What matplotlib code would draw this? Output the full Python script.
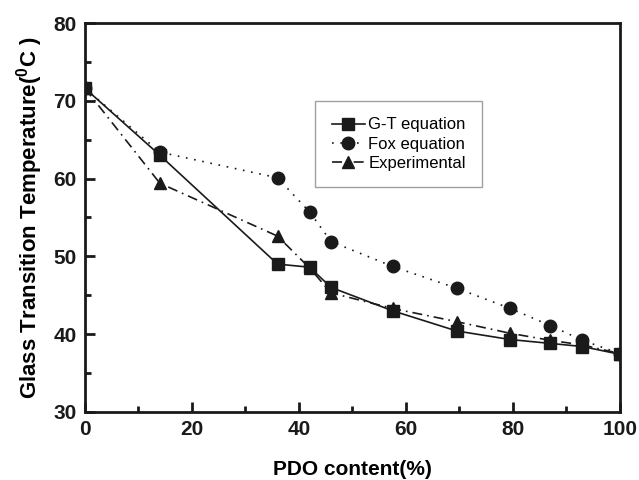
import matplotlib.pyplot as plt
from matplotlib.ticker import MultipleLocator

plt.rcParams['font.family'] = ['Liberation Sans', 'DejaVu Sans']
plt.rcParams['mathtext.default'] = 'regular'

# PDO content (%)
pdo = [0, 14, 36, 42, 46, 57.5, 69.5, 79.5, 87, 93, 100]
gt_eq = [71.6, 63.0, 49.0, 48.6, 46.0, 43.0, 40.4, 39.3, 38.8, 38.4, 37.4]
fox_eq = [71.6, 63.4, 60.1, 55.7, 51.9, 48.7, 45.9, 43.3, 41.1, 39.2, 37.5]
experimental = [71.6, 59.4, 52.6, 48.5, 45.3, 43.3, 41.6, 40.1, 39.2, 38.6, 37.5]

fig = plt.figure(figsize=(6.39, 4.8), dpi=100)
ax = fig.add_axes([0.133, 0.142, 0.837, 0.810])

ax.plot(pdo, gt_eq, color='#1a1a1a', linestyle='-', linewidth=1.2,
        marker='s', markersize=8, label='G-T equation')
ax.plot(pdo, fox_eq, color='#1a1a1a', linestyle=(0, (1, 4)), linewidth=1.2,
        marker='o', markersize=9, label='Fox equation')
ax.plot(pdo, experimental, color='#1a1a1a', linestyle=(0, (6, 3, 1, 3)), linewidth=1.2,
        marker='^', markersize=9, label='Experimental')

ax.set_xlim(0, 100)
ax.set_ylim(30, 80)
ax.xaxis.set_major_locator(MultipleLocator(20))
ax.xaxis.set_minor_locator(MultipleLocator(10))
ax.yaxis.set_major_locator(MultipleLocator(10))
ax.yaxis.set_minor_locator(MultipleLocator(5))
ax.tick_params(which='both', direction='in', width=2, colors='#1a1a1a')
ax.tick_params(which='major', length=7, labelsize=15, pad=6)
ax.tick_params(which='minor', length=4)
for lbl in ax.get_xticklabels() + ax.get_yticklabels():
    lbl.set_fontweight('bold')
for sp in ax.spines.values():
    sp.set_linewidth(2)
    sp.set_color('#1a1a1a')

ax.set_xlabel('PDO content(%)', fontsize=15, fontweight='bold', labelpad=15)
ax.set_ylabel('Glass Transition Temperature($^0$C )', fontsize=16, fontweight='bold', labelpad=6)

leg = ax.legend(loc='upper left', bbox_to_anchor=(0.43, 0.80), borderaxespad=0,
                fontsize=12, frameon=True, fancybox=False, handlelength=2.0,
                borderpad=1.0, labelspacing=0.25, handletextpad=0.2)
leg.get_frame().set_edgecolor('#888888')
leg.get_frame().set_linewidth(1)

plt.savefig('out.png', dpi=100)
